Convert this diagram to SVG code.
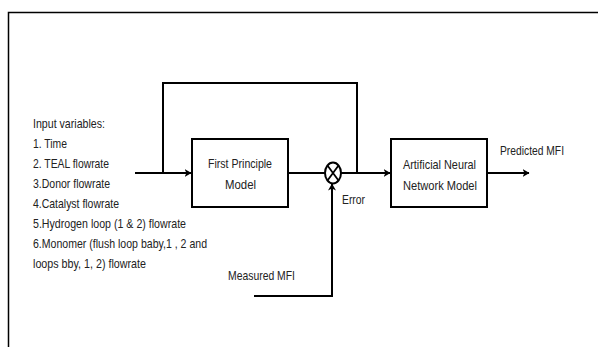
<svg xmlns="http://www.w3.org/2000/svg" width="598" height="347" viewBox="0 0 598 347">
<style>
text{font-family:"Liberation Sans Narrow","Liberation Sans",Arial,sans-serif;font-size:13px;fill:#222}
.ln{fill:none;stroke:#000;stroke-width:2}
.box{fill:#fff;stroke:#000;stroke-width:2}
</style>
<defs>
<marker id="ah" viewBox="0 0 7 8" refX="6.5" refY="4" markerWidth="7" markerHeight="8" markerUnits="userSpaceOnUse" orient="auto">
<path d="M0,0 L7,4 L0,8 L2,4 z" fill="#000"/>
</marker>
</defs>
<rect width="598" height="347" fill="#fff"/>
<path d="M8.5,347 V12.5 H598" fill="none" stroke="#000" stroke-width="1.5"/>
<g id="connectors">
<path class="ln" d="M135,173 H191" marker-end="url(#ah)"/>
<path class="ln" d="M163,173 V83 H357 V173"/>
<path class="ln" d="M288,173 H325"/>
<path class="ln" d="M341,173 H390" marker-end="url(#ah)"/>
<path class="ln" d="M487,173 H529" marker-end="url(#ah)"/>
<path class="ln" d="M254,296 H332 V184" marker-end="url(#ah)"/>
</g>
<g id="inputs">
<text x="33" y="128" textLength="72" lengthAdjust="spacingAndGlyphs">Input variables:</text>
<text x="33" y="148" textLength="34" lengthAdjust="spacingAndGlyphs">1. Time</text>
<text x="33" y="168" textLength="76" lengthAdjust="spacingAndGlyphs">2. TEAL flowrate</text>
<text x="33" y="188" textLength="77" lengthAdjust="spacingAndGlyphs">3.Donor flowrate</text>
<text x="33" y="208" textLength="86" lengthAdjust="spacingAndGlyphs">4.Catalyst flowrate</text>
<text x="33" y="228" textLength="153" lengthAdjust="spacingAndGlyphs">5.Hydrogen loop (1 &amp; 2) flowrate</text>
<text x="33" y="248" textLength="174" lengthAdjust="spacingAndGlyphs">6.Monomer (flush loop baby,1 , 2 and</text>
<text x="33" y="268" textLength="113" lengthAdjust="spacingAndGlyphs">loops bby, 1, 2) flowrate</text>
</g>
<g id="first-principle">
<rect class="box" x="192" y="139" width="96" height="68"/>
<text x="208" y="168" textLength="64" lengthAdjust="spacingAndGlyphs">First Principle</text>
<text x="225" y="189" textLength="31" lengthAdjust="spacingAndGlyphs">Model</text>
</g>
<g id="sum">
<ellipse cx="333" cy="173" rx="8" ry="10.5" fill="#fff" stroke="#000" stroke-width="2"/>
<path d="M327.5,165.5 L338.5,180.5 M338.5,165.5 L327.5,180.5" stroke="#000" stroke-width="1.8"/>
<text x="342" y="204" textLength="23" lengthAdjust="spacingAndGlyphs">Error</text>
</g>
<g id="ann">
<rect class="box" x="391" y="139" width="96" height="68"/>
<text x="403" y="169" textLength="73" lengthAdjust="spacingAndGlyphs">Artificial Neural</text>
<text x="403" y="190" textLength="74" lengthAdjust="spacingAndGlyphs">Network Model</text>
</g>
<g id="output">
<text x="500" y="155" textLength="64" lengthAdjust="spacingAndGlyphs">Predicted MFI</text>
</g>
<g id="measured">
<text x="228" y="280" textLength="67" lengthAdjust="spacingAndGlyphs">Measured MFI</text>
</g>
</svg>
